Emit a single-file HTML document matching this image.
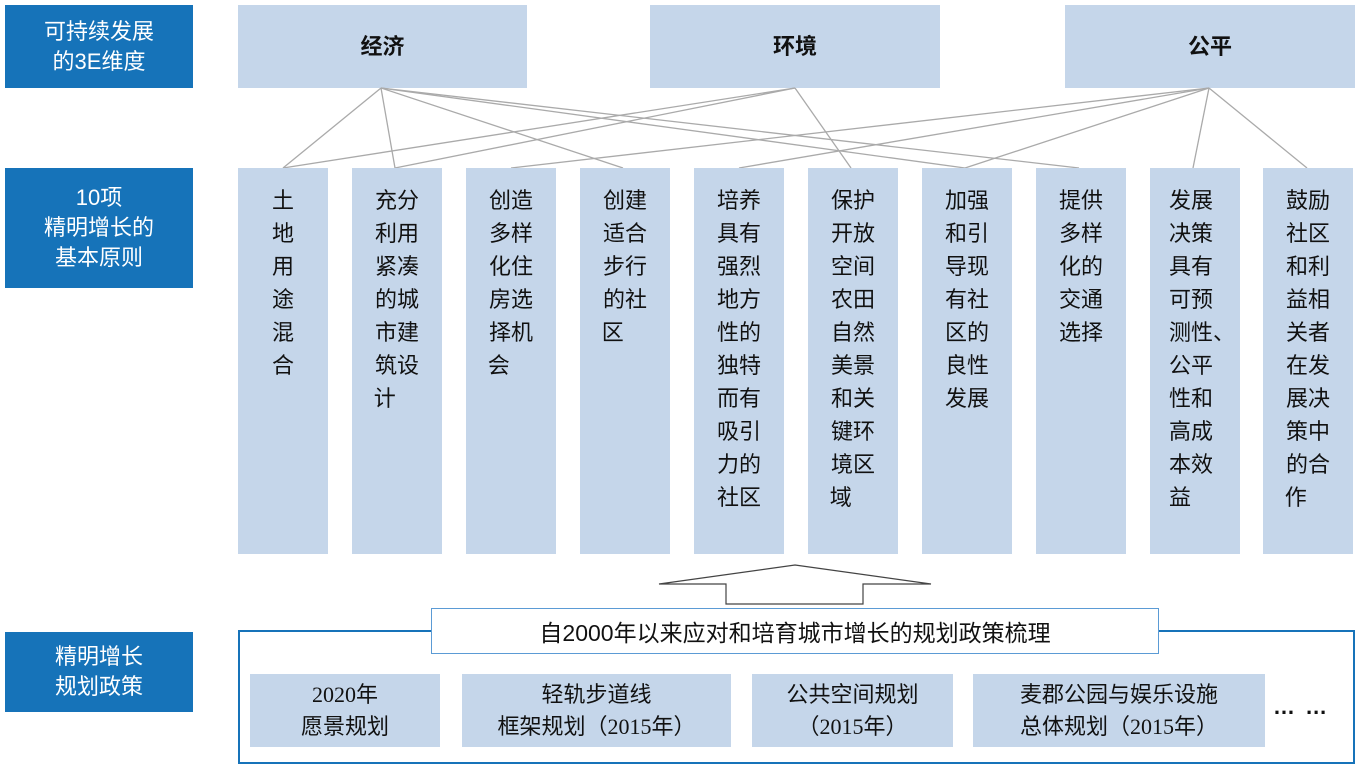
<!DOCTYPE html>
<html><head><meta charset="utf-8"><style>
body{margin:0;width:1360px;height:770px;background:#fff;position:relative;font-family:"Liberation Sans","Noto Sans CJK SC",sans-serif;overflow:hidden}
.a{position:absolute;box-sizing:border-box}
.lab{background:#1673b9;color:#fff;font-size:22px;line-height:30px;text-align:center;display:flex;align-items:center;justify-content:center}
.top{background:#c5d6ea;font-size:22px;font-weight:bold;display:flex;align-items:center;justify-content:center;color:#111;padding-bottom:4px}
.p{background:#c5d6ea;width:90px;top:168px;height:386px;font-size:22px;line-height:33px;text-align:center;color:#111}
.p span{position:absolute;left:0;right:0;top:16px;text-align:center;white-space:nowrap}
.s{background:#c5d6ea;top:674px;height:73px;font-size:22px;line-height:32px;text-align:center;display:flex;align-items:center;justify-content:center;color:#111;font-family:"Liberation Serif","Noto Sans CJK SC",serif}
</style></head><body>
<div class="a lab" style="left:5px;top:5px;width:188px;height:83px">可持续发展<br>的3E维度</div>
<div class="a lab" style="left:5px;top:168px;width:188px;height:120px">10项<br>精明增长的<br>基本原则</div>
<div class="a lab" style="left:5px;top:632px;width:188px;height:80px">精明增长<br>规划政策</div>
<div class="a top" style="left:238px;top:5px;width:289px;height:83px">经济</div>
<div class="a top" style="left:650px;top:5px;width:290px;height:83px">环境</div>
<div class="a top" style="left:1065px;top:5px;width:290px;height:83px">公平</div>
<svg class="a" style="left:0;top:0" width="1360" height="770">
<g stroke="#aaa" stroke-width="1.3" fill="none">
<line x1="381" y1="88" x2="283" y2="168"/><line x1="381" y1="88" x2="395" y2="168"/><line x1="381" y1="88" x2="623" y2="168"/><line x1="381" y1="88" x2="965" y2="168"/><line x1="381" y1="88" x2="1079" y2="168"/>
<line x1="795" y1="88" x2="283" y2="168"/><line x1="795" y1="88" x2="395" y2="168"/><line x1="795" y1="88" x2="851" y2="168"/>
<line x1="1209" y1="88" x2="511" y2="168"/><line x1="1209" y1="88" x2="739" y2="168"/><line x1="1209" y1="88" x2="965" y2="168"/><line x1="1209" y1="88" x2="1193" y2="168"/><line x1="1209" y1="88" x2="1307" y2="168"/>
</g>
<polygon points="795,565 931,584 863,584 863,604 726,604 726,584 659,584" fill="#fff" stroke="#444" stroke-width="1.2"/>
</svg>
<div class="a p" style="left:238px"><span>土<br>地<br>用<br>途<br>混<br>合</span></div>
<div class="a p" style="left:352px"><span>充分<br>利用<br>紧凑<br>的城<br>市建<br>筑设<br>计&nbsp;&nbsp;&nbsp;&nbsp;</span></div>
<div class="a p" style="left:466px"><span>创造<br>多样<br>化住<br>房选<br>择机<br>会&nbsp;&nbsp;&nbsp;&nbsp;</span></div>
<div class="a p" style="left:580px"><span>创建<br>适合<br>步行<br>的社<br>区&nbsp;&nbsp;&nbsp;&nbsp;</span></div>
<div class="a p" style="left:694px"><span>培养<br>具有<br>强烈<br>地方<br>性的<br>独特<br>而有<br>吸引<br>力的<br>社区</span></div>
<div class="a p" style="left:808px"><span>保护<br>开放<br>空间<br>农田<br>自然<br>美景<br>和关<br>键环<br>境区<br>域&nbsp;&nbsp;&nbsp;&nbsp;</span></div>
<div class="a p" style="left:922px"><span>加强<br>和引<br>导现<br>有社<br>区的<br>良性<br>发展</span></div>
<div class="a p" style="left:1036px"><span>提供<br>多样<br>化的<br>交通<br>选择</span></div>
<div class="a p" style="left:1150px"><span style="text-align:left;left:19px">发展<br>决策<br>具有<br>可预<br>测性、<br>公平<br>性和<br>高成<br>本效<br>益</span></div>
<div class="a p" style="left:1263px"><span>鼓励<br>社区<br>和利<br>益相<br>关者<br>在发<br>展决<br>策中<br>的合<br>作&nbsp;&nbsp;&nbsp;&nbsp;</span></div>
<div class="a" style="left:238px;top:630px;width:1117px;height:134px;border:2px solid #1673b9"></div>
<div class="a" style="left:431px;top:608px;width:728px;height:46px;border:1px solid #5b9bd5;background:#fff;font-size:23px;display:flex;align-items:center;justify-content:center;color:#111">自2000年以来应对和培育城市增长的规划政策梳理</div>
<div class="a s" style="left:250px;width:190px">2020年<br>愿景规划</div>
<div class="a s" style="left:462px;width:269px">轻轨步道线<br>框架规划（2015年）</div>
<div class="a s" style="left:752px;width:201px">公共空间规划<br>（2015年）</div>
<div class="a s" style="left:973px;width:292px">麦郡公园与娱乐设施<br>总体规划（2015年）</div>
<div class="a" style="left:1273px;top:694px;font-size:22px;font-weight:bold;color:#111;letter-spacing:2px">… …</div>
</body></html>
